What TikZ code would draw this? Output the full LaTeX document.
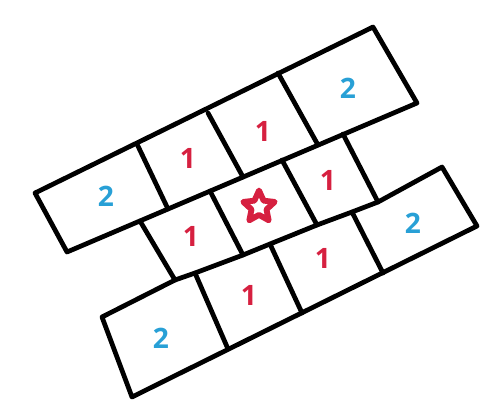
\documentclass[tikz,border=0pt]{standalone}
\usepackage{fontspec}
\setsansfont{Open Sans}
\usetikzlibrary{shapes.geometric}
\definecolor{tilered}{RGB}{214,32,64}
\definecolor{tileblue}{RGB}{40,160,214}
\tikzset{
	edge/.style={line width=2.7pt, line cap=round, line join=round},
	one/.style={text=tilered, font=\sffamily\bfseries\fontsize{16}{18}\selectfont},
	two/.style={text=tileblue, font=\sffamily\bfseries\fontsize{16}{18}\selectfont},
	home/.style={star, star points=5, star point ratio=2.1, minimum size=0.66cm, inner sep=0pt, draw=tilered, line width=3.3pt, line join=round, fill=white}
}
\begin{document}
\begin{tikzpicture}[x=0.02cm, y=-0.02cm]
	\useasboundingbox (0,0) rectangle (500,407);
	% Corners of the tiles:
	\coordinate (T0) at (35,193);  \coordinate (T1) at (137,144); \coordinate (T2) at (208,113);
	\coordinate (T3) at (278,73);  \coordinate (T4) at (373,27);
	\coordinate (A0) at (67,252);  \coordinate (A1) at (168,209); \coordinate (A2) at (243,177);
	\coordinate (A3) at (318,145); \coordinate (A4) at (417,103);
	\coordinate (M0) at (140,221); \coordinate (M1) at (210,191); \coordinate (M2) at (282,160);
	\coordinate (M3) at (343,134);
	\coordinate (C0) at (102,317); \coordinate (B0) at (175,280); \coordinate (D1) at (195,273);
	\coordinate (B1) at (243,255); \coordinate (D2) at (270,244); \coordinate (B2) at (317,225);
	\coordinate (D3) at (352,212); \coordinate (B3) at (378,202); \coordinate (C4) at (442,167);
	\coordinate (E0) at (132,397); \coordinate (E1) at (228,349); \coordinate (E2) at (302,313);
	\coordinate (E3) at (383,273); \coordinate (E4) at (477,226);
	% Top row:
	\draw[edge] (T0) -- (T4) -- (A4) -- (A0) -- cycle;
	\draw[edge] (T1) -- (A1);
	\draw[edge] (T2) -- (A2);
	\draw[edge] (T3) -- (A3);
	% Middle row:
	\draw[edge] (M0) -- (B0);
	\draw[edge] (M1) -- (B1);
	\draw[edge] (M2) -- (B2);
	\draw[edge] (M3) -- (B3);
	% Bottom row:
	\draw[edge] (C0) -- (B0) -- (D1) -- (B1) -- (D2) -- (B2) -- (D3) -- (B3) -- (C4) -- (E4) -- (E0) -- cycle;
	\draw[edge] (D1) -- (E1);
	\draw[edge] (D2) -- (E2);
	\draw[edge] (D3) -- (E3);
	% Labels:
	\node[two] (N1) at (106,196) {2};
	\node[one] (N2) at (188,158) {1};
	\node[one] (N3) at (263,131) {1};
	\node[two] (N4) at (348,88) {2};
	\node[one] (N5) at (191,236) {1};
	\node[home] (N6) at (259,207) {};
	\node[one] (N7) at (328,180) {1};
	\node[two] (N8) at (161,338) {2};
	\node[one] (N9) at (249,295) {1};
	\node[one] (N10) at (323,258) {1};
	\node[two] (N11) at (413,223) {2};
\end{tikzpicture}
\end{document}
